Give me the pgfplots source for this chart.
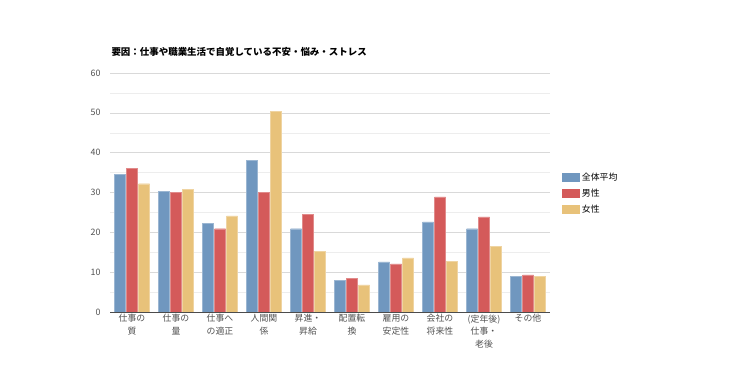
\documentclass[border=0pt]{standalone}
\usepackage{pgfplots}
\pgfplotsset{compat=1.18}
\usepackage{fontspec}
\setmainfont{Noto Sans CJK JP}
\definecolor{cblue}{HTML}{7097BF}
\definecolor{cred}{HTML}{D45A5A}
\definecolor{cyel}{HTML}{E8C27A}
\definecolor{tgray}{HTML}{505050}
\pgfplotsset{myleg/.style={legend image code/.code={\fill[##1,draw=none] (0bp,-4.5bp) rectangle (18bp,4.5bp);}}}
\begin{document}
\begin{tikzpicture}
\path[use as bounding box] (0,0) rectangle (735bp,368bp);
\node[anchor=west,font=\fontsize{9.5}{11}\selectfont\bfseries] at (108bp,316bp) {要因：仕事や職業生活で自覚している不安・悩み・ストレス};
\begin{axis}[
  at={(110bp,56bp)}, anchor=south west,
  scale only axis, width=440bp, height=239bp,
  xmin=-0.5, xmax=9.5, ymin=0, ymax=60,
  ybar=1bp, bar width=11bp,
  xtick={0,...,9},
  xticklabels={仕事の\\質,仕事の\\量,仕事へ\\の適正,人間関\\係,昇進・\\昇給,配置転\\換,雇用の\\安定性,会社の\\将来性,(定年後)\\仕事・\\老後,その他},
  xticklabel style={align=center,font=\fontsize{8.9}{13}\selectfont,text=tgray,yshift=1bp},
  ytick={0,10,...,60},
  minor ytick={5,15,...,55},
  yticklabel style={font=\fontsize{8.9}{10}\selectfont,text=tgray,xshift=-6bp},
  /pgf/number format/assume math mode=true,
  ymajorgrids, yminorgrids,
  major grid style={draw=black!15},
  minor grid style={draw=black!7},
  axis x line*=bottom, axis y line*=left,
  x axis line style={draw=black!70,-},
  y axis line style={draw=none},
  tick style={draw=none},
  major tick length=0pt,
  legend style={at={(1.02,0.6)},anchor=north west,draw=none,fill=none,
    font=\fontsize{8.9}{10}\selectfont,row sep=3pt},
  legend cell align=left,
]
\addplot[fill=cblue,draw=cblue!70!white,myleg] coordinates {(0,34.6) (1,30.3) (2,22.2) (3,38.0) (4,20.9) (5,8.0) (6,12.6) (7,22.6) (8,20.9) (9,9.0)};
\addplot[fill=cred,draw=cred!70!white,myleg] coordinates {(0,36.1) (1,30.1) (2,20.9) (3,30.1) (4,24.6) (5,8.5) (6,12.1) (7,28.9) (8,23.9) (9,9.3)};
\addplot[fill=cyel,draw=cyel!70!white,myleg] coordinates {(0,32.2) (1,30.8) (2,24.1) (3,50.3) (4,15.3) (5,6.8) (6,13.6) (7,12.8) (8,16.5) (9,9.0)};
\legend{全体平均,男性,女性}
\end{axis}
\end{tikzpicture}
\end{document}
